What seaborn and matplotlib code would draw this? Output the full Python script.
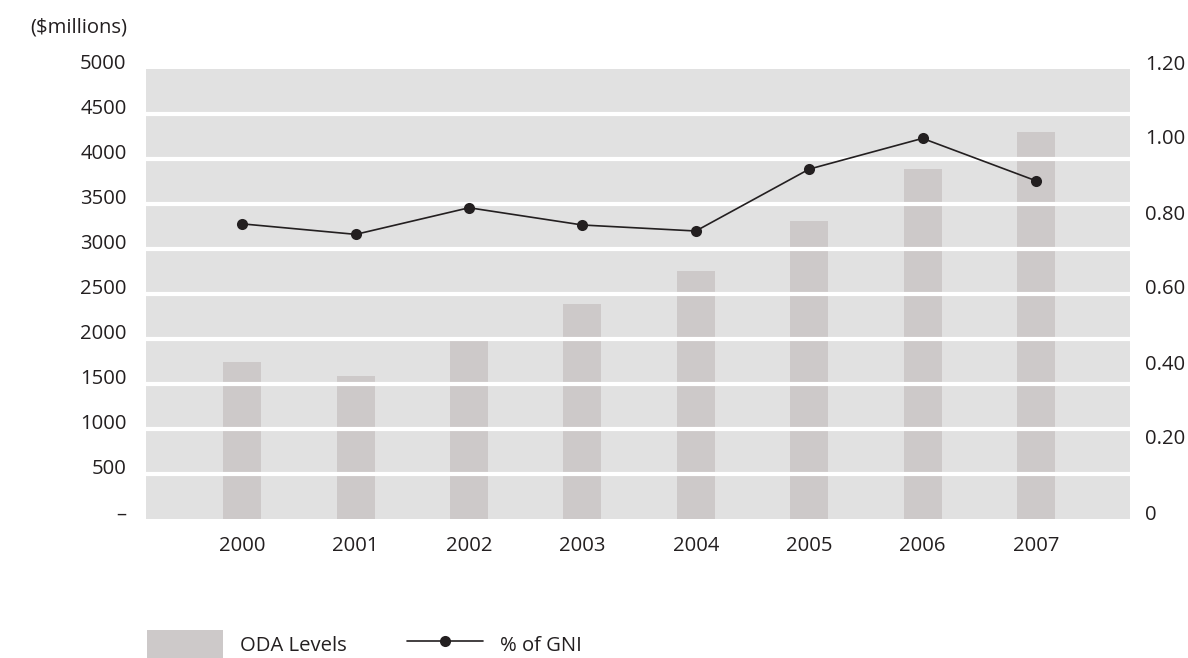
import numpy as np
import pandas as pd
import matplotlib
matplotlib.use("Agg")
import matplotlib.pyplot as plt
import matplotlib.transforms as mtransforms
from matplotlib.patches import Patch
from matplotlib.lines import Line2D
import seaborn as sns

# ODA volumes ($ millions) and ODA as a share of GNI (%)
years = ["2000", "2001", "2002", "2003", "2004", "2005", "2006", "2007"]
oda_levels = [1745, 1590, 1980, 2390, 2755, 3310, 3890, 4300]
pct_gni = [0.787, 0.759, 0.830, 0.784, 0.768, 0.933, 1.015, 0.902]

left_ticks = [0, 500, 1000, 1500, 2000, 2500, 3000, 3500, 4000, 4500, 5000]
left_labels = ["\u2013", "500", "1000", "1500", "2000", "2500", "3000",
               "3500", "4000", "4500", "5000"]
right_ticks = [0, 0.2, 0.4, 0.6, 0.8, 1.0, 1.2]
right_labels = ["0", "0.20", "0.40", "0.60", "0.80", "1.00", "1.20"]

TEXT = "#231f20"
BG = "#e1e1e1"
BAR = "#cdc9c9"
FS = 14.6

sns.set_theme(style="white")
plt.rcParams["font.family"] = ["Open Sans", "DejaVu Sans"]
plt.rcParams["text.color"] = TEXT
plt.rcParams["xtick.color"] = TEXT
plt.rcParams["ytick.color"] = TEXT

df = pd.DataFrame({"year": years, "oda": oda_levels, "gni": pct_gni})

fig = plt.figure(figsize=(11.88, 6.58), dpi=100)
ax = fig.add_axes([146 / 1188, 1 - 519 / 658, (1130 - 146) / 1188, 450 / 658])
ax.set_facecolor(BG)

sns.barplot(data=df, x="year", y="oda", color=BAR, width=0.335,
            saturation=1, edgecolor="none", linewidth=0, ax=ax, zorder=1)

ax.set_ylim(0, 5000)
ax.set_yticks(left_ticks)
ax.set_yticklabels(left_labels, fontsize=FS)
ax.set_axisbelow(False)
ax.grid(axis="y", color="white", linewidth=3, zorder=2)
ax.grid(axis="x", visible=False)
glines = ax.get_ygridlines()
glines[0].set_visible(False)
glines[-1].set_visible(False)
ax.tick_params(axis="y", length=0, pad=14)
ax.tick_params(axis="x", length=0, pad=12, labelsize=FS)
ax.set_xlabel("")
ax.set_ylabel("")
for s in ax.spines.values():
    s.set_visible(False)

ax2 = ax.twinx()
sns.lineplot(data=df, x="year", y="gni", color=TEXT, linewidth=1.2,
             marker="o", markersize=8, markeredgewidth=0, sort=False, ax=ax2)
ax2.set_ylim(0, 1.2)
ax2.set_yticks(right_ticks)
ax2.set_yticklabels(right_labels, fontsize=FS)
ax2.tick_params(axis="y", length=0, pad=11)
ax2.set_ylabel("")
ax2.set_xlabel("")
for s in ax2.spines.values():
    s.set_visible(False)

ax.set_xlim(-0.85, 7.83)

# value labels sit slightly above their gridlines
lift = mtransforms.ScaledTranslation(0, 7 / 100, fig.dpi_scale_trans)
for lab in ax.get_yticklabels() + ax2.get_yticklabels():
    lab.set_transform(lab.get_transform() + lift)

fig.text(127 / 1188, 1 - 27 / 658, "($millions)", ha="right", va="center",
         fontsize=FS, color=TEXT)

handles = [
    Patch(facecolor=BAR, edgecolor="none", label="ODA Levels"),
    Line2D([], [], color=TEXT, linewidth=1.2, marker="o", markersize=8,
           markeredgewidth=0, label="% of GNI"),
]
fig.legend(handles=handles, loc="center left",
           bbox_to_anchor=(147 / 1188, 1 - 645 / 658), ncol=2, frameon=False,
           fontsize=FS, handlelength=3.75, handleheight=1.95,
           handletextpad=0.84, columnspacing=2.95, borderpad=0,
           borderaxespad=0)

fig.savefig("out.png", dpi=100)
